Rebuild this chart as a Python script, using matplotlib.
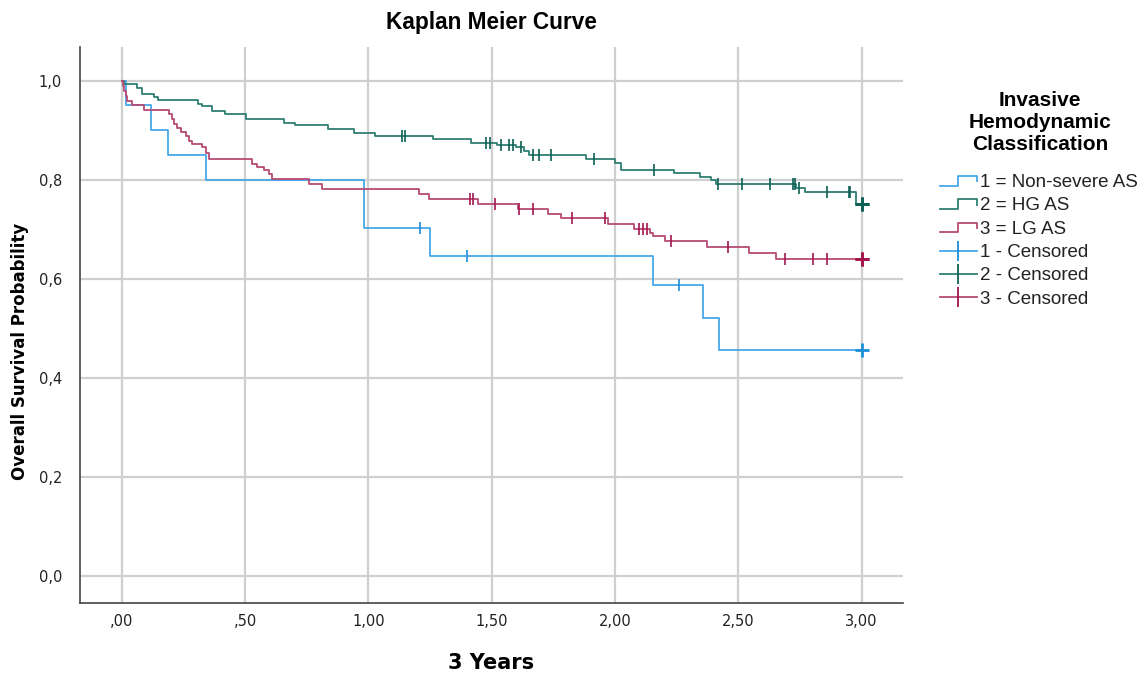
import numpy as np
import matplotlib
matplotlib.use("Agg")
import matplotlib.pyplot as plt
from matplotlib.lines import Line2D
from matplotlib.legend_handler import HandlerBase

# ---- data (time in years, survival probability) ----
blue_t = [0.015, 0.118, 0.188, 0.342, 0.982, 1.248, 2.152, 2.358, 2.42]
blue_s = [0.951, 0.901, 0.850, 0.800, 0.702, 0.646, 0.587, 0.522, 0.456]
blue_cens = [1.21, 1.40, 2.26, 3.0]

green_t = [0.008, 0.062, 0.083, 0.13, 0.148, 0.31, 0.326, 0.367, 0.42, 0.502,
           0.658, 0.702, 0.834, 0.942, 1.027, 1.26, 1.416, 1.523, 1.598, 1.632,
           1.652, 1.883, 1.998, 2.025, 2.241, 2.343, 2.39, 2.41, 2.735, 2.769, 2.979]
green_s = [0.993, 0.985, 0.973, 0.968, 0.961, 0.953, 0.948, 0.938, 0.932, 0.923,
           0.915, 0.910, 0.903, 0.895, 0.889, 0.883, 0.875, 0.871, 0.866, 0.859,
           0.850, 0.842, 0.834, 0.820, 0.813, 0.806, 0.799, 0.791, 0.784, 0.775, 0.752]
green_cens = [1.136, 1.149, 1.476, 1.493, 1.537, 1.571, 1.585, 1.619,
              1.669, 1.69, 1.74, 1.916, 2.16, 2.416, 2.516, 2.63, 2.72, 2.73,
              2.746, 2.861, 2.949, 2.954, 3.0, 3.0]

red_t = [0.004, 0.008, 0.016, 0.022, 0.039, 0.09, 0.191, 0.202, 0.211, 0.225,
         0.238, 0.259, 0.272, 0.286, 0.326, 0.34, 0.353, 0.527, 0.549, 0.577,
         0.597, 0.61, 0.759, 0.813, 1.206, 1.246, 1.443, 1.605, 1.727, 1.781,
         1.97, 2.076, 2.14, 2.153, 2.203, 2.372, 2.543, 2.651]
red_s = [0.99, 0.98, 0.97, 0.96, 0.951, 0.941, 0.933, 0.923, 0.913, 0.905,
         0.896, 0.889, 0.879, 0.873, 0.867, 0.855, 0.842, 0.832, 0.826, 0.819,
         0.811, 0.802, 0.792, 0.782, 0.772, 0.762, 0.752, 0.742, 0.732, 0.722,
         0.711, 0.700, 0.693, 0.686, 0.677, 0.664, 0.652, 0.641]
red_cens = [1.41, 1.425, 1.513, 1.612, 1.669, 1.826, 1.961, 2.099, 2.115,
            2.13, 2.228, 2.458, 2.688, 2.803, 2.861, 3.0, 3.0]

groups = ["1 = Non-severe AS", "2 = HG AS", "3 = LG AS"]
cens_labels = ["1 - Censored", "2 - Censored", "3 - Censored"]
legend_title = "Invasive\nHemodynamic\nClassification"
x_ticks = [0, 0.5, 1.0, 1.5, 2.0, 2.5, 3.0]
x_ticklabels = [",00", ",50", "1,00", "1,50", "2,00", "2,50", "3,00"]
y_ticks = [0.0, 0.2, 0.4, 0.6, 0.8, 1.0]
y_ticklabels = ["0,0", "0,2", "0,4", "0,6", "0,8", "1,0"]

line_cols = ["#45a8ea", "#2f7f74", "#b84a74"]
mark_cols = ["#1b8fd8", "#0e5f55", "#a3174f"]

NARROW = ["DejaVu Sans Condensed", "DejaVu Sans"]
SANS = ["Liberation Sans", "DejaVu Sans"]


def surv_at(t, times, surv):
    # step function (right-continuous)
    idx = np.searchsorted(np.asarray(times), t, side="right")
    s = np.concatenate([[1.0], surv])
    return s[idx]


class StepHandler(HandlerBase):
    def create_artists(self, legend, orig, xd, yd, w, h, fontsize, trans):
        xs = np.array([0, 0.5, 0.5, 1.0, 1.0]) * w - xd
        ys = np.array([0.1, 0.1, 0.85, 0.85, 0.45]) * h - yd
        ln = Line2D(xs, ys, color=orig.get_color(), lw=orig.get_linewidth(),
                    transform=trans)
        return [ln]


fig = plt.figure(figsize=(11.47, 6.76), dpi=100)
ax = fig.add_axes([80 / 1147, 1 - 603 / 676, 823 / 1147, 556 / 676])

curves = [(blue_t, blue_s, blue_cens), (green_t, green_s, green_cens),
          (red_t, red_s, red_cens)]
step_handles = []
cens_handles = []
for i, (tt, ss, cc) in enumerate(curves):
    t_end = max(cc)
    xs = np.concatenate([[0.0], tt, [t_end]])
    ys = np.concatenate([[1.0], ss, [ss[-1]]])
    ax.step(xs, ys, where="post", color=line_cols[i], lw=1.3, zorder=3)
    cc = np.asarray(cc)
    cy = surv_at(cc, tt, ss)
    last = cc >= t_end
    ax.plot(cc[~last], cy[~last], ls="none", marker="|", ms=9, mew=1.2,
            color=mark_cols[i], zorder=4)
    ax.plot(cc[last], cy[last], ls="none", marker="+", ms=10, mew=2.0,
            color=mark_cols[i], zorder=4)
    step_handles.append(Line2D([], [], color=line_cols[i], lw=1.3))
    cens_handles.append(Line2D([], [], color=line_cols[i], lw=1.3, marker="|",
                               ms=15, mew=1.3, mec=mark_cols[i]))

ax.set_xlim(-0.17, 3.168)
ax.set_ylim(-0.054, 1.068)
ax.set_xticks(x_ticks)
ax.set_xticklabels(x_ticklabels, family=NARROW, fontsize=10.5, color="#222222")
ax.set_yticks(y_ticks)
ax.set_yticklabels(y_ticklabels, family=NARROW, fontsize=10.5, color="#222222")
ax.tick_params(axis="x", length=0, pad=8)
ax.tick_params(axis="y", length=0, pad=13)
ax.grid(True, color="#cfcfcf", lw=1.6, zorder=0)
ax.set_axisbelow(True)
for side in ["top", "right"]:
    ax.spines[side].set_visible(False)
for side in ["left", "bottom"]:
    ax.spines[side].set_color("#444444")
    ax.spines[side].set_linewidth(1.2)

fig.text(491 / 1147, 1 - 22 / 676, "Kaplan Meier Curve", ha="center",
         va="center", fontsize=16.3, fontweight="bold", family=SANS)
fig.text(20 / 1147, 1 - 351 / 676, "Overall Survival Probability", rotation=90,
         ha="center", va="center", fontsize=12, fontweight="bold", family=NARROW)
fig.text(491 / 1147, 1 - 663 / 676, "3 Years", ha="center", va="center",
         fontsize=15, fontweight="bold", family=NARROW)

# legend title as its own text so the gap to the entries can be matched
fig.text(1040 / 1147, 1 - 123 / 676, legend_title, ha="center", va="center",
         multialignment="center", linespacing=1.2, fontsize=15,
         fontweight="bold", family=SANS)

handler_map = {h: StepHandler() for h in step_handles}
leg = fig.legend(step_handles + cens_handles, groups + cens_labels,
                 handler_map=handler_map, loc="upper left",
                 bbox_to_anchor=(940 / 1147, 1 - 174 / 676), frameon=False,
                 borderpad=0, borderaxespad=0, handlelength=1.95,
                 handletextpad=0.16, labelspacing=0.33,
                 prop={"family": SANS, "size": 13.5})
for txt in leg.get_texts():
    txt.set_color("#222222")

fig.savefig("out.png", dpi=100)
